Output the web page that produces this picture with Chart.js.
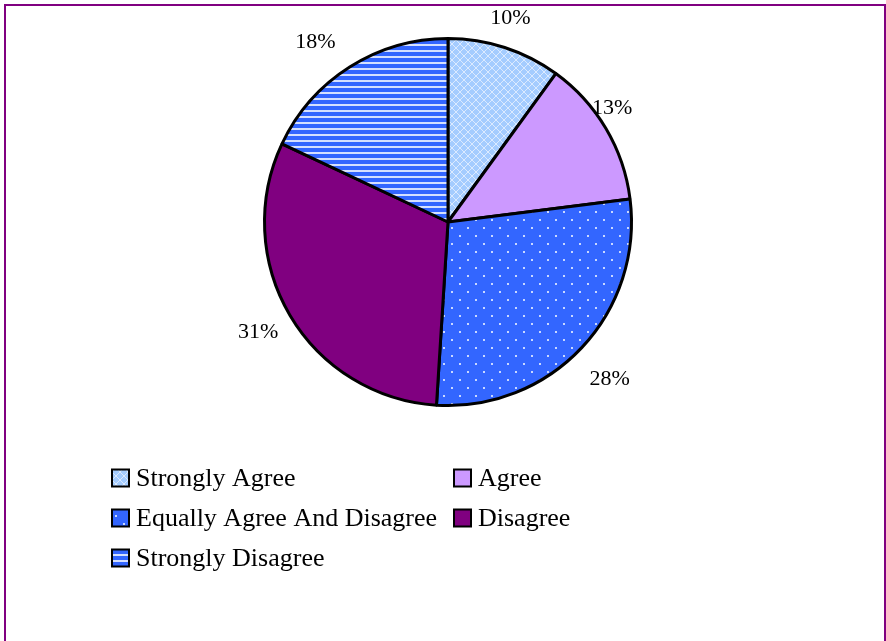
<!DOCTYPE html>
<html>
<head>
<meta charset="utf-8">
<title>Survey responses</title>
<script src="https://cdn.jsdelivr.net/npm/chart.js@4.4.0/dist/chart.umd.min.js"></script>
<style>
  html, body { margin: 0; padding: 0; background: #fff; overflow: hidden; }
  .frame {
    position: absolute; left: 4px; top: 4px; width: 882px; height: 680px;
    box-sizing: border-box; border: 2px solid #800080;
  }
  #pie { position: absolute; left: 0; top: 0; }
</style>
</head>
<body>
<div class="frame"></div>
<canvas id="pie" width="886" height="641"></canvas>
<script>
const categories = [
  "Strongly Agree",
  "Agree",
  "Equally Agree And Disagree",
  "Disagree",
  "Strongly Disagree",
];
const shares = [10, 13, 28, 31, 18];

// small tiles used as fill patterns
function makeTile(w, h, paint) {
  const c = document.createElement("canvas");
  c.width = w;
  c.height = h;
  paint(c.getContext("2d"));
  return c.getContext("2d").createPattern(c, "repeat");
}

const lattice = makeTile(8, 8, (g) => {
  g.fillStyle = "#a4ccff";
  g.fillRect(0, 0, 8, 8);
  g.fillStyle = "#dbeaff";
  for (let i = 0; i < 8; i++) {
    g.fillRect(i, i, 1, 1);
    g.fillRect(7 - i, i, 1, 1);
  }
});
const dotted = makeTile(16, 16, (g) => {
  g.fillStyle = "#3366ff";
  g.fillRect(0, 0, 16, 16);
  g.fillStyle = "#c9d8ff";
  g.fillRect(3, 3, 2, 2);
  g.fillRect(11, 11, 2, 2);
});
const striped = makeTile(6, 6, (g) => {
  g.fillStyle = "#3366ff";
  g.fillRect(0, 0, 6, 6);
  g.fillStyle = "#d5e0ff";
  g.fillRect(0, 2, 6, 2);
});

const fills = [lattice, "#cc99ff", dotted, "#800080", striped];

// percent labels just outside each slice
const sliceLabels = {
  id: "sliceLabels",
  afterDatasetsDraw(chart, args, opts) {
    const ctx = chart.ctx;
    const meta = chart.getDatasetMeta(0);
    ctx.save();
    ctx.font = opts.font;
    ctx.fillStyle = "#000";
    ctx.textAlign = "center";
    ctx.textBaseline = "middle";
    meta.data.forEach((arc, i) => {
      const p = arc.getProps(["x", "y", "startAngle", "endAngle", "outerRadius"], true);
      const mid = (p.startAngle + p.endAngle) / 2 + (opts.nudge[i] * Math.PI) / 180;
      const r = p.outerRadius + opts.gap[i];
      const v = chart.data.datasets[0].data[i];
      ctx.fillText(v + "%", p.x + Math.cos(mid) * r, p.y + Math.sin(mid) * r);
    });
    ctx.restore();
  },
};

// two-column legend under the pie
const gridLegend = {
  id: "gridLegend",
  afterDraw(chart, args, opts) {
    const ctx = chart.ctx;
    const bg = chart.data.datasets[0].backgroundColor;
    const s = opts.box;
    ctx.save();
    ctx.font = opts.font;
    ctx.textBaseline = "middle";
    ctx.textAlign = "left";
    chart.data.labels.forEach((name, i) => {
      const x = opts.columns[i % 2];
      const y = opts.top + Math.floor(i / 2) * opts.rowStep;
      ctx.fillStyle = bg[i];
      ctx.fillRect(x, y - s / 2, s, s);
      ctx.lineWidth = 2;
      ctx.strokeStyle = "#000";
      ctx.strokeRect(x, y - s / 2, s, s);
      ctx.fillStyle = "#000";
      ctx.fillText(name, x + s + 7, y + 1);
    });
    ctx.restore();
  },
};

new Chart(document.getElementById("pie"), {
  type: "pie",
  data: {
    labels: categories,
    datasets: [
      {
        data: shares,
        backgroundColor: fills,
        borderColor: "#000",
        borderWidth: 3,
      },
    ],
  },
  options: {
    responsive: false,
    animation: false,
    events: [],
    layout: { padding: { left: 263, right: 253, top: 37, bottom: 234 } },
    plugins: {
      legend: { display: false },
      tooltip: { enabled: false },
      sliceLabels: {
        font: "22px 'Liberation Serif'",
        gap: [30, 16, 42, 36, 40],
        nudge: [-1, -4, 1, 0.5, -4],
      },
      gridLegend: {
        font: "26px 'Liberation Serif'",
        columns: [112, 454],
        top: 478,
        rowStep: 40,
        box: 17,
      },
    },
  },
  plugins: [sliceLabels, gridLegend],
});
</script>
</body>
</html>
